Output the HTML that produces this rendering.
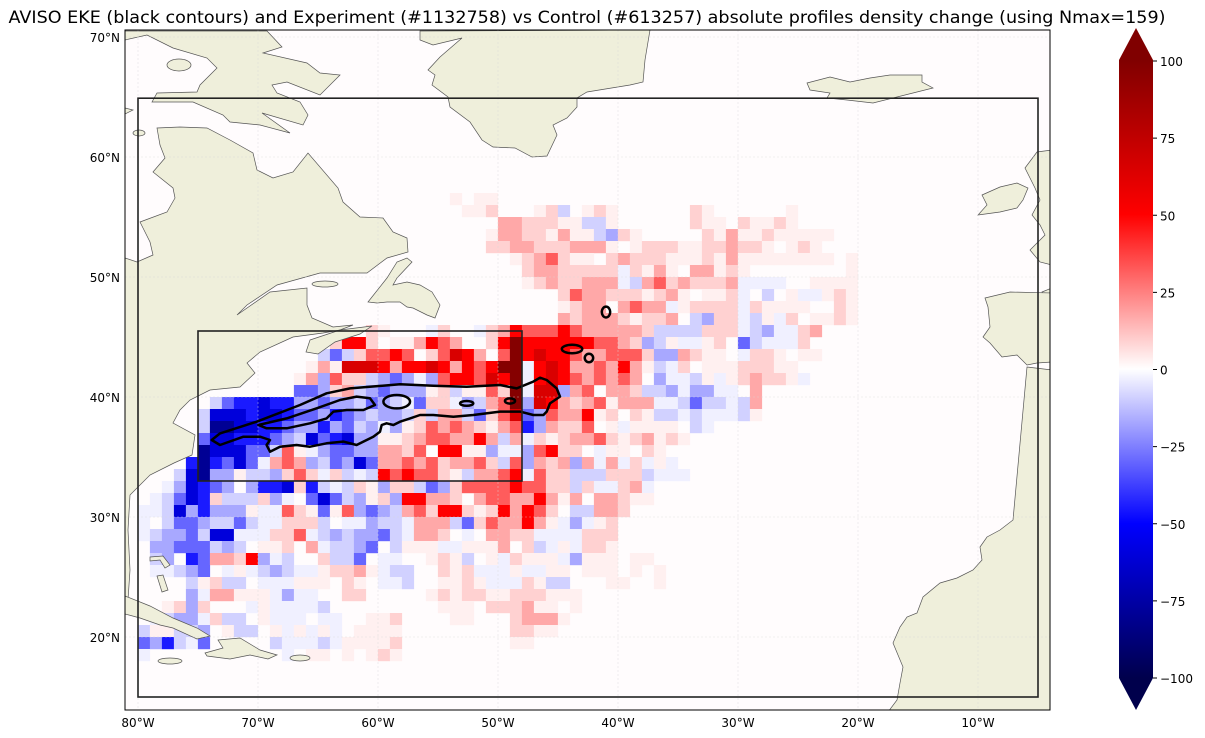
<!DOCTYPE html>
<html><head><meta charset="utf-8"><style>
html,body{margin:0;padding:0;background:#fff;}
svg{display:block;font-family:"DejaVu Sans","Liberation Sans",sans-serif;}
</style></head><body>
<svg id="fig" width="1205" height="738" viewBox="0 0 1205 738" xmlns="http://www.w3.org/2000/svg">
<defs>
<clipPath id="mapclip"><rect x="125" y="30" width="925" height="680"/></clipPath>
<linearGradient id="seis" x1="0" y1="1" x2="0" y2="0">
<stop offset="0" stop-color="#00004c"/><stop offset="0.25" stop-color="#0000ff"/><stop offset="0.5" stop-color="#ffffff"/><stop offset="0.75" stop-color="#ff0000"/><stop offset="1" stop-color="#800000"/>
</linearGradient>
</defs>
<text x="587" y="23" text-anchor="middle" font-size="17" textLength="1157" lengthAdjust="spacingAndGlyphs" fill="#000">AVISO EKE (black contours) and Experiment (#1132758) vs Control (#613257) absolute profiles density change (using Nmax=159)</text>
<g clip-path="url(#mapclip)">
<rect x="125" y="30" width="925" height="680" fill="#fffcfd"/>
<g id="cells"></g>
<g fill="#efefdb" stroke="#555" stroke-width="0.7">
<path d="M125,258 L137,262 153,255 150,242 140,222 167,212 175,198 173,188 153,172 165,158 160,145 157,128 180,127 207,128 230,140 253,153 257,170 273,178 293,172 308,153 338,188 343,202 360,217 383,218 393,232 407,238 408,252 387,258 367,273 320,273 277,285 247,305 237,315 270,292 307,288 307,305 312,318 333,327 353,325 340,330 323,333 293,337 260,352 247,363 255,373 240,387 210,390 190,400 180,410 173,423 195,435 192,455 174,463 150,475 138,487 130,495 128,530 130,570 128,600 125,605 Z"/>
<path d="M125,31 L267,31 282,47 263,53 307,63 320,73 340,75 320,95 287,82 272,85 277,93 300,102 308,115 303,125 262,113 290,133 260,125 230,122 223,115 193,102 152,102 157,93 197,92 200,85 217,68 207,58 173,48 147,35 125,40 Z"/>
<path d="M125,108 L133,110 125,114 Z"/>
<ellipse cx="179" cy="65" rx="12" ry="6"/>
<ellipse cx="139" cy="133" rx="6" ry="3"/>
<path d="M420,31 L420,40 433,45 462,38 440,57 428,70 435,75 432,85 448,97 450,107 470,122 482,140 493,147 515,148 532,157 547,156 557,135 553,125 567,118 577,107 577,98 587,92 630,85 643,82 645,60 650,30 Z"/>
<path d="M368,302 L387,278 397,262 407,258 412,262 397,278 393,285 407,282 420,285 432,292 440,305 435,318 427,315 413,308 407,307 400,302 387,302 377,303 Z"/>
<ellipse cx="325" cy="284" rx="13" ry="3"/>
<path d="M310,340 L340,330 372,326 360,334 335,342 318,354 306,352 Z"/>
<path d="M807,83 L830,77 850,82 870,78 890,75 922,75 922,82 933,88 913,93 873,103 847,100 827,98 830,93 810,90 Z"/>
<path d="M982,195 L1000,187 1017,183 1028,188 1023,200 1017,208 1000,212 978,215 987,205 983,197 Z"/>
<path d="M1025,168 L1037,152 1052,150 1052,265 1040,262 1030,250 1045,235 1040,225 1032,215 1040,200 1035,188 1030,178 Z"/>
<path d="M1042,292 L1052,288 1052,302 1045,300 Z"/>
<path d="M985,298 L1010,292 1052,293 1052,362 1037,363 1027,365 1017,355 1002,357 990,343 983,337 990,327 988,307 Z"/>
<path d="M1027,367 L1052,370 1052,712 888,712 897,700 900,683 903,667 893,643 900,627 907,617 917,613 923,597 940,583 957,578 973,570 982,560 980,547 987,537 1000,530 1013,520 Z"/>
<path d="M125,596 L150,606 173,618 197,628 210,636 197,639 173,628 160,625 140,618 125,614 Z"/>
<path d="M218,640 L240,638 260,650 277,655 268,659 250,655 230,659 207,656 205,653 223,648 Z"/>
<ellipse cx="300" cy="658" rx="10" ry="3"/>
<ellipse cx="170" cy="661" rx="12" ry="3"/>
<path d="M150,557 L163,556 170,565 165,568 160,560 150,561 Z"/>
<path d="M157,576 L163,575 168,590 162,592 Z"/>
</g>
<g id="grid" stroke="#d8d8d8" stroke-opacity="0.7" stroke-width="0.6" stroke-dasharray="2,2"></g>
<g id="contours" fill="none" stroke="#000" stroke-width="2.5"></g>
<g id="boxes" fill="none" stroke="#222" stroke-width="1.6"></g>
</g>
<rect x="125" y="30" width="925" height="680" fill="none" stroke="#000" stroke-width="1"/>
<g id="ticks" font-size="12" fill="#000"></g>
<g>
<rect x="1119" y="60" width="34" height="618" fill="url(#seis)"/>
<polygon points="1119,60 1153,60 1136,28" fill="#800000"/>
<polygon points="1119,678 1153,678 1136,710" fill="#00004c"/>
<g id="cbticks" font-size="12"></g>
</g>
</svg>
<script>
// ---- data ----
const lonStart = -81;
const topLat = 57;
const codeValues = {"1":3,"2":9,"3":17,"4":32,"5":50,"6":65,"7":98,"a":-3,"b":-9,"c":-17,"d":-30,"e":-45,"f":-60,"g":-80};
const densityRows = [
"..........|..........|.......1.1|1.........|..........|..........|.",
"..........|..........|........11|2...12b.12|1......21.|.....1....|.",
"..........|..........|..........|.3322211bb|1......211|.21121....|.",
"..........|..........|..........|133221311b|c21.....21|311211111.|.",
"..........|..........|..........|2233222333|1.12221122|3221.121..|.",
"..........|..........|..........|..1234211.|2322211121|311111111.|1",
"..........|..........|..........|...2332222|2a2131.331|21........|1",
"..........|..........|..........|...1232233|3ab3423222|3aaaa..111|1",
"..........|..........|..........|......2433|2221231.11|2a.b.1aa12|1",
"..........|..........|..........|......1233|.3433a1222|2a21111..2|1",
"..........|..........|..........|......3233|321223.bc2|2ab1a2.112|1",
"..........|..........|21...a2..a|2354445433|3332bbbb22|2abcaa23..|.",
"..........|.......255|2.113543..|2575555554|432cb1aa12|.dbaaa2...|.",
"..........|......bdb2|4454.24653|.475655433|4442cc3211|.a221.11..|.",
"..........|.....13166|6535565354|577a565334|3531ba2.11|122211....|.",
"..........|....13c422|bcdcac4554|657a565434|343.caab1a|123221a...|.",
"..........|....ddc23b|cdccc12b11|427a66c34.|332bbcacca|a.3.......|.",
".......bde|efeeccdccb|dcbad22acb|347c653234|1333aabdbb|ab3.......|.",
"......bfff|effeddcedc|bccb2b33bd|246dc43351|2.21bbabaa|ab1.......|.",
"......bggf|feedccecdb|cac1243432|134ec3224.|1a1111.ba.|..........|.",
"......dffe|eedcbfdefc|c112344335|3b3a212334|2123121...|..........|.",
"......gfff|ddb41acddc|c3324.5511|caac4522.a|11.21.....|..........|.",
".....egedf|da343cbdcf|d334342334|2b4c323c3a|3a2a1a....|..........|.",
"....bfgcc1|bbc242a2ba|b5454421b3|345a422bbb|222baaa...|..........|.",
"...acfedc.|ceef2ebab2|1c22bdc244|4454422b2a|a23a......|..........|.",
"..abdfe2bb|b2ca.dfdbc|12c55332.3|44335313.3|3211......|..........|.",
".aabfceccc|1aa421d14c|dcb3425521|253542.bb3|32........|..........|.",
".a.bddcbbd|baa222b.aa|cbba333bd2|433531aca1|2.........|..........|.",
".abccdbffa|aa224abcbc|cdba332.a.|3322aaaa22|2.........|..........|.",
"..ccdddbcb|.112.3abbc|d.b111aa11|13.2ba1a22|1.........|..........|.",
"..bc.ed332|5cab..2bbd|.aa..121b.|1a2111ac11|1.11......|..........|.",
"..aabcd.a1|abcbaa1223|1abb..212a|aa1aa11.11|1.1.1.....|..........|.",
".....b12bb|.aaa111.21|.aab..1121|aaa21bb...|11..1.....|..........|.",
".....ca331|11acaa..22|.....12122|11222111..|..........|..........|.",
"...12c2...|a1aaaab...|......111.|222311.1..|..........|..........|.",
"..abcca2bb|.1aaa.aa..|112....11.|..23331...|..........|..........|.",
".b11bbc.1b|b.1a1a1a.1|111.......|..2211....|..........|..........|.",
".dcebad...|..baaaba11|112.......|..11......|..........|..........|.",
".a........|...a.11.1.|121.......|..........|..........|..........|."
];
const outerLon = [-73.86,-73.17,-70.11,-66.5,-64.28,-62.33,-58.17,-55.39,-52.61,-49.83,-48.44,-47.06,-46.5,-45.94,-45.11,-44.83,-45.67,-45.94,-46.22,-47.06,-48.17,-49.83,-52.06,-53.72,-55.39,-56.5,-57.33,-58.17,-58.72,-59.28,-59.69,-59.83,-60.39,-61.22,-61.78,-62.89,-64.28,-65.67,-66.78,-68.17,-69.0,-69.28,-69.0,-69.83,-71.22,-73.17];
const outerLat = [36.42,36.97,37.94,39.33,40.31,40.72,41.06,40.94,40.86,41.0,40.72,41.28,41.61,41.42,40.72,40.03,39.47,38.78,38.5,38.5,38.78,38.78,38.5,38.36,38.5,38.5,38.22,37.94,37.67,37.81,37.67,37.11,36.69,36.28,36.0,36.28,36.14,35.86,36.0,35.86,35.44,36.0,36.42,36.69,36.69,36.0];
const innerLon = [-69.97,-67.61,-65.11,-63.17,-61.78,-60.67,-60.25,-61.22,-62.61,-63.72,-64.28,-65.67,-67.61,-69.28];
const innerLat = [37.67,38.22,39.06,39.75,40.03,39.89,39.33,38.92,38.92,38.78,38.22,37.81,37.39,37.39];
const loopLon = [-58.44,-52.61,-49.0,-43.83,-42.42,-41.0];
const loopLat = [39.61,39.47,39.67,44.0,43.25,47.08];
const loopRx = [1.11,0.55,0.42,0.85,0.35,0.35];
const loopRy = [0.56,0.2,0.22,0.35,0.35,0.45];
const boxLon0 = [-80,-75], boxLon1 = [-5,-48], boxLat0 = [15,33], boxLat1 = [64.9,45.5];
const lonTicks = [-80,-70,-60,-50,-40,-30,-20,-10];
const lonTickLabels = ["80°W","70°W","60°W","50°W","40°W","30°W","20°W","10°W"];
const latTicks = [70,60,50,40,30,20];
const latTickLabels = ["70°N","60°N","50°N","40°N","30°N","20°N"];
const cbTicks = [100,75,50,25,0,-25,-50,-75,-100];
const cbTickLabels = ["100","75","50","25","0","\u221225","\u221250","\u221275","\u2212100"];

// ---- axis functions ----
const NS = "http://www.w3.org/2000/svg";
function xOf(lon){ return 138 + (lon + 80) * 12; }
function yOf(lat){ return 397 - (lat - 40) * 12; }
function cbY(v){ return 61 + (100 - v) / 200 * 617; }
function seismic(v){
  let t = Math.max(0, Math.min(1, (v + 100) / 200));
  const k = [[0,0,0,0.3],[0.25,0,0,1],[0.5,1,1,1],[0.75,1,0,0],[1,0.5,0,0]];
  for (let i = 0; i < 4; i++) {
    if (t <= k[i+1][0]) {
      const f = (t - k[i][0]) / (k[i+1][0] - k[i][0]);
      const c = [1,2,3].map(j => Math.round(255 * (k[i][j] + f * (k[i+1][j] - k[i][j]))));
      return "rgb(" + c.join(",") + ")";
    }
  }
  return "rgb(128,0,0)";
}

// ---- heatmap ----
const cells = document.getElementById("cells");
densityRows.forEach((row, r) => {
  const s = row.replace(/\|/g, "");
  for (let i = 0; i < s.length; i++) {
    const ch = s[i];
    if (!(ch in codeValues)) continue;
    const v = codeValues[ch];
    const lon = lonStart + i, latTop = topLat - r;
    const el = document.createElementNS(NS, "rect");
    el.setAttribute("x", xOf(lon) - 0.1);
    el.setAttribute("y", yOf(latTop));
    el.setAttribute("width", xOf(lon + 1) - xOf(lon) + 0.2);
    el.setAttribute("height", yOf(latTop - 1) - yOf(latTop) + 0.2);
    el.setAttribute("fill", seismic(v));
    
    
    cells.appendChild(el);
  }
});

// ---- gridlines ----
const grid = document.getElementById("grid");
lonTicks.forEach(lon => {
  const l = document.createElementNS(NS, "line");
  l.setAttribute("x1", xOf(lon)); l.setAttribute("x2", xOf(lon));
  l.setAttribute("y1", 30); l.setAttribute("y2", 710);
  
  
  grid.appendChild(l);
});
latTicks.forEach(lat => {
  const l = document.createElementNS(NS, "line");
  l.setAttribute("y1", yOf(lat)); l.setAttribute("y2", yOf(lat));
  l.setAttribute("x1", 125); l.setAttribute("x2", 1050);
  
  
  grid.appendChild(l);
});

// ---- contours ----
const cont = document.getElementById("contours");
function polyPath(lons, lats){
  return "M" + lons.map((lo, k) => xOf(lo).toFixed(1) + "," + yOf(lats[k]).toFixed(1)).join(" L") + " Z";
}
const outer = document.createElementNS(NS, "path");
outer.setAttribute("d", polyPath(outerLon, outerLat));
outer.setAttribute("stroke-linejoin", "round");


cont.appendChild(outer);
const inner = document.createElementNS(NS, "path");
inner.setAttribute("d", polyPath(innerLon, innerLat));
inner.setAttribute("stroke-linejoin", "round");


cont.appendChild(inner);
loopLon.forEach((lo, k) => {
  const e = document.createElementNS(NS, "ellipse");
  e.setAttribute("cx", xOf(lo)); e.setAttribute("cy", yOf(loopLat[k]));
  e.setAttribute("rx", loopRx[k] * 12); e.setAttribute("ry", loopRy[k] * 12);
  
  
  cont.appendChild(e);
});

// ---- boxes ----
const boxes = document.getElementById("boxes");
boxLon0.forEach((lo, k) => {
  const b = document.createElementNS(NS, "rect");
  b.setAttribute("x", xOf(lo)); b.setAttribute("y", yOf(boxLat1[k]));
  b.setAttribute("width", xOf(boxLon1[k]) - xOf(lo));
  b.setAttribute("height", yOf(boxLat0[k]) - yOf(boxLat1[k]));
  
  
  boxes.appendChild(b);
});

// ---- tick labels ----
const ticks = document.getElementById("ticks");
lonTicks.forEach((lon, k) => {
  const t = document.createElementNS(NS, "text");
  t.setAttribute("x", xOf(lon)); t.setAttribute("y", 727);
  t.setAttribute("text-anchor", "middle");
  t.textContent = lonTickLabels[k];
  
  
  ticks.appendChild(t);
});
latTicks.forEach((lat, k) => {
  const t = document.createElementNS(NS, "text");
  t.setAttribute("x", 120); t.setAttribute("y", yOf(lat) + 5);
  t.setAttribute("text-anchor", "end");
  t.textContent = latTickLabels[k];
  
  
  ticks.appendChild(t);
});
const cbt = document.getElementById("cbticks");
cbTicks.forEach((v, k) => {
  const l = document.createElementNS(NS, "line");
  l.setAttribute("x1", 1153); l.setAttribute("x2", 1157);
  l.setAttribute("y1", cbY(v)); l.setAttribute("y2", cbY(v));
  l.setAttribute("stroke", "#000");
  
  
  cbt.appendChild(l);
  const t = document.createElementNS(NS, "text");
  t.setAttribute("x", 1160); t.setAttribute("y", cbY(v) + 5);
  t.textContent = cbTickLabels[k];
  
  
  cbt.appendChild(t);
});
</script>
</body></html>
